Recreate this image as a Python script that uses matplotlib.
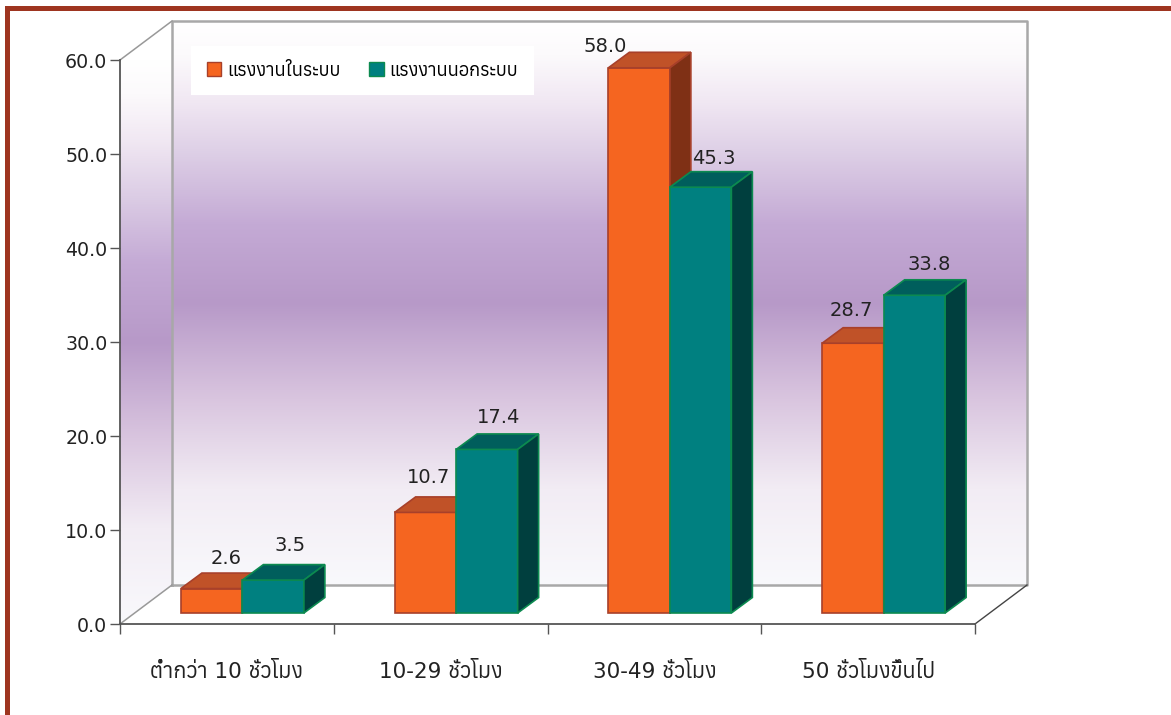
import numpy as np
import matplotlib
matplotlib.use('Agg')
import matplotlib.pyplot as plt
from matplotlib import font_manager
from matplotlib.colors import to_rgb
from matplotlib.patches import Patch, Polygon, Rectangle

categories = ['ต่ำกว่า 10 ชั่วโมง', '10-29 ชั่วโมง', '30-49 ชั่วโมง', '50 ชั่วโมงขึ้นไป']
series_names = ['แรงงานในระบบ', 'แรงงานนอกระบบ']
formal = [2.6, 10.7, 58.0, 28.7]
informal = [3.5, 17.4, 45.3, 33.8]
y_ticks = [0, 10, 20, 30, 40, 50, 60]

# look for a font that really has thai glyphs
thai_fonts = []
for f in font_manager.fontManager.ttflist:
    try:
        if 0x0E41 in font_manager.get_font(f.fname).get_charmap():
            thai_fonts.append(f.name)
    except Exception:
        pass
thai_fonts = sorted(set(thai_fonts))
plt.rcParams['font.family'] = ['DejaVu Sans'] + thai_fonts

W, H = 1171, 715
fig = plt.figure(figsize=(W / 100, H / 100), dpi=100, facecolor='white')

# red-brown frame
frame = '#9e3520'
fig.patches.append(Rectangle((5 / W, 1 - 11 / H), 1 - 5 / W, 5 / H, transform=fig.transFigure, color=frame, lw=0))
fig.patches.append(Rectangle((5 / W, 0), 4.5 / W, 1 - 6 / H, transform=fig.transFigure, color=frame, lw=0))

ax = fig.add_axes([120 / W, 1 - 624 / H, 855 / W, 564 / H])
ax.patch.set_visible(False)

px_x = 4 / 855
px_y = 60 / 564
wall_dx = 52 * px_x
wall_dy = 39 * px_y
bar_dx = 21 * px_x
bar_dy = 15.5 * px_y
bar_w = 61.5 * px_x
base_dx = 15.5 * px_x
base_dy = 11 * px_y


def wall_colors(v):
    # v = 0 at top of wall, 1 at bottom
    stops = [0, 0.06, 0.14, 0.24, 0.36, 0.5, 0.67, 0.83, 1]
    cols = ['#ffffff', '#fcfafc', '#f1e8f3', '#dccde5', '#c4aad5', '#b799c8', '#d9c5df', '#f2ecf4', '#f9f9fc']
    cols = np.array([to_rgb(c) for c in cols])
    return np.column_stack([np.interp(v, stops, cols[:, i]) for i in range(3)])


vv = np.linspace(0, 1, 300)
ax.imshow(wall_colors(vv)[:, None, :], extent=[wall_dx, 4 + wall_dx, wall_dy, 60 + wall_dy],
          aspect='auto', zorder=0, clip_on=False)

# left wall has the same bands, level with the front edge, cut to the slanted shape
yy = np.linspace(60 + wall_dy, 0, 340)
im = ax.imshow(wall_colors((60 - yy) / 60)[:, None, :], extent=[0, wall_dx, 0, 60 + wall_dy],
               aspect='auto', zorder=0)
im.set_clip_path(Polygon([[0, 0], [wall_dx, wall_dy], [wall_dx, 60 + wall_dy], [0, 60]], transform=ax.transData))

gray = '#a8a8a8'
ax.plot([wall_dx, 4 + wall_dx, 4 + wall_dx, wall_dx, wall_dx],
        [wall_dy, wall_dy, 60 + wall_dy, 60 + wall_dy, wall_dy], color=gray, lw=1.8, zorder=1, clip_on=False)
ax.plot([0, wall_dx], [60, 60 + wall_dy], color='#999999', lw=1.1, zorder=1, clip_on=False)
ax.plot([0, wall_dx], [0, wall_dy], color='#999999', lw=1.1, zorder=1, clip_on=False)
ax.plot([4, 4 + wall_dx], [0, wall_dy], color='#444444', lw=1, zorder=1, clip_on=False)


def bar3d(x, v, front, top, side, edge, z):
    y0 = base_dy
    ax.bar(x, v, bar_w, bottom=y0, align='edge', color=front, edgecolor=edge, lw=1.2, zorder=z, clip_on=False)
    ax.fill([x, x + bar_dx, x + bar_w + bar_dx, x + bar_w],
            [y0 + v, y0 + v + bar_dy, y0 + v + bar_dy, y0 + v],
            facecolor=top, edgecolor=edge, lw=1.2, zorder=z, clip_on=False)
    ax.fill([x + bar_w, x + bar_w + bar_dx, x + bar_w + bar_dx, x + bar_w],
            [y0, y0 + bar_dy, y0 + v + bar_dy, y0 + v],
            facecolor=side, edgecolor=edge, lw=1.2, zorder=z, clip_on=False)


orange = ['#f56520', '#c05228', '#7f3015', '#a8402a']
teal = ['#008080', '#005e5c', '#003f3e', '#0c8a50']

for i in range(len(categories)):
    mid = i + 0.5 + base_dx
    bar3d(mid - bar_w, formal[i], *orange, 3 + i)
    bar3d(mid, informal[i], *teal, 3.5 + i)

# value labels, nudged by hand as in the original (pixels)
nudge_formal = [(14, 14.5), (3, 19.5), (-34, 5.5), (-2, 17.5)]
nudge_informal = [(17, 19.5), (12, 16.5), (13, 13.5), (15, 15.5)]
for i in range(len(categories)):
    mid = i + 0.5 + base_dx
    ax.annotate(f'{formal[i]:.1f}', (mid - bar_w / 2, formal[i] + base_dy + bar_dy),
                xytext=(nudge_formal[i][0] * 0.72, nudge_formal[i][1] * 0.72),
                textcoords='offset points', ha='center', va='center', fontsize=14, color='#222222', zorder=20,
                annotation_clip=False)
    ax.annotate(f'{informal[i]:.1f}', (mid + bar_w / 2, informal[i] + base_dy + bar_dy),
                xytext=(nudge_informal[i][0] * 0.72, nudge_informal[i][1] * 0.72),
                textcoords='offset points', ha='center', va='center', fontsize=14, color='#222222', zorder=20,
                annotation_clip=False)

ax.set_xlim(0, 4)
ax.set_ylim(0, 60)
ax.set_yticks(y_ticks)
ax.set_yticklabels([f'{t:.1f}' for t in y_ticks], fontsize=13.7, color='#222222')
ax.set_xticks(range(5))
ax.set_xticklabels([])
ax.set_xticks(np.arange(4) + 0.5, categories, minor=True, fontsize=15.5, color='#222222')
ax.tick_params(axis='x', which='major', length=7, width=1, color='#555555')
ax.tick_params(axis='x', which='minor', length=0, pad=27)
ax.tick_params(axis='y', length=7, width=1, color='#555555', pad=2)
for s in ['top', 'right']:
    ax.spines[s].set_visible(False)
for s in ['left', 'bottom']:
    ax.spines[s].set_color('#555555')
    ax.spines[s].set_linewidth(1.3)

handles = [Patch(facecolor=orange[0], edgecolor=orange[3]), Patch(facecolor=teal[0], edgecolor=teal[3])]
leg = ax.legend(handles, series_names, ncol=2, loc='upper left', bbox_to_anchor=(191 / W, 1 - 46 / H),
                bbox_transform=fig.transFigure, frameon=True, framealpha=1, facecolor='white', edgecolor='none',
                fancybox=False, fontsize=13.2, handlelength=0.78, handleheight=0.8, handletextpad=0.32,
                columnspacing=1.6, borderpad=0.85, borderaxespad=0)
leg.set_zorder(30)
leg.get_frame().set_linewidth(0)

fig.savefig('out.png', dpi=100)
